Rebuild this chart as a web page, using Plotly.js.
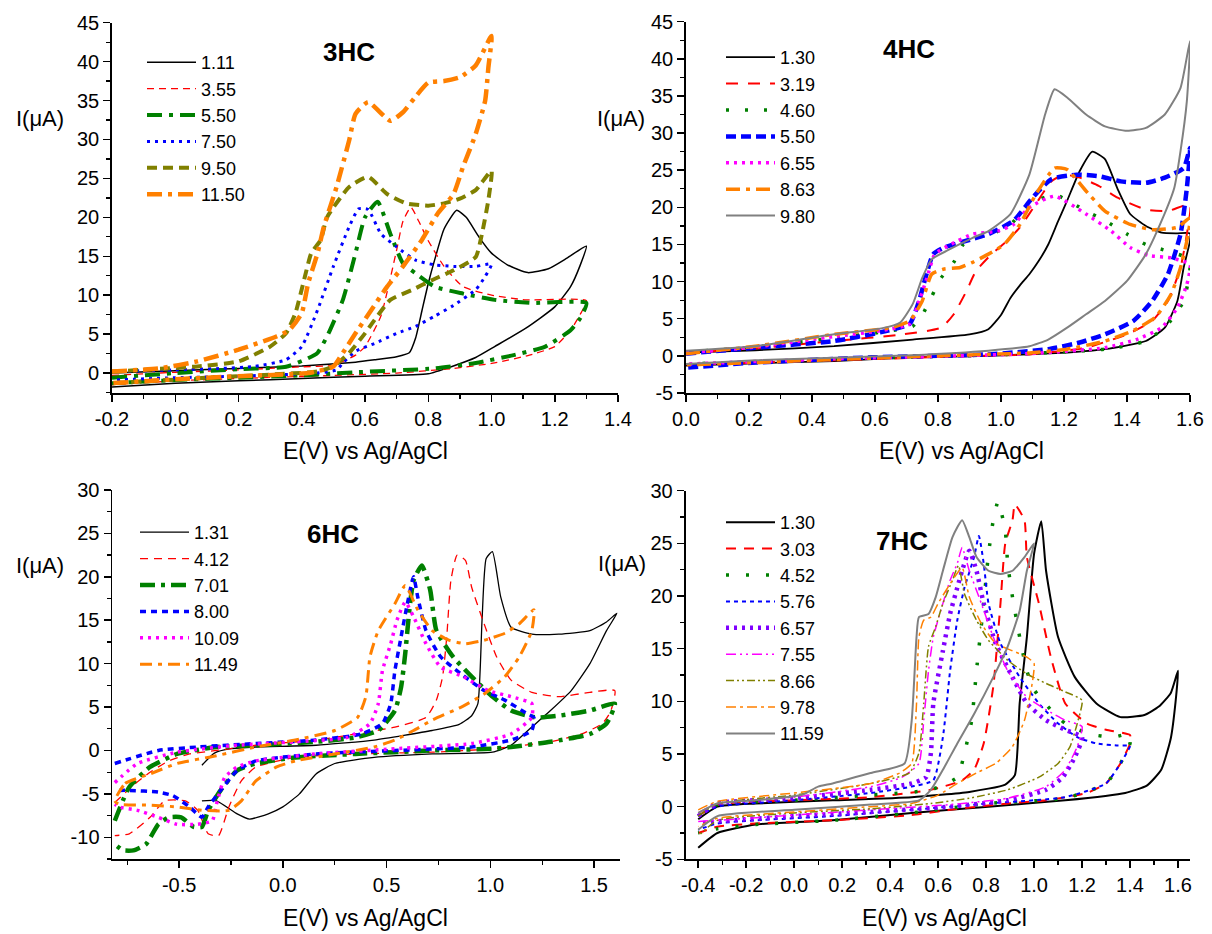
<!DOCTYPE html>
<html>
<head>
<meta charset="utf-8">
<script src="https://cdn.plot.ly/plotly-3.0.1.min.js"></script>
<style>html,body{margin:0;padding:0;background:#fff}#chart{width:1212px;height:934px}</style>
</head>
<body>
<div id="chart"></div>
<script>
// ---------------- 3HC ----------------
const legend3HC = ['1.11','3.55','5.50','7.50','9.50','11.50'];
const E3_111 = [-0.2,0.0,0.2,0.4,0.57,0.63,0.70,0.74,0.76,0.78,0.80,0.82,0.85,0.89,0.92,0.96,1.0,1.05,1.115,1.18,1.24,1.3,1.28,1.25,1.2,1.11,1.01,0.95,0.875,0.8,0.6,0.4,0.2,0.0,-0.2];
const I3_111 = [0.0,0.3,0.6,0.9,1.4,1.7,2.1,2.6,4.5,8.0,11.5,14.5,18.5,20.9,20.0,17.5,15.4,13.9,12.9,13.4,14.8,16.3,13.8,11.1,8.5,5.8,3.4,2.0,0.85,-0.1,-0.4,-0.7,-1.0,-1.3,-1.8];
const E3_355 = [-0.2,0.0,0.2,0.4,0.5,0.57,0.60,0.65,0.70,0.72,0.745,0.77,0.8,0.85,0.91,1.0,1.11,1.3,1.28,1.25,1.2,1.12,1.01,0.88,0.7,0.5,0.2,0.0,-0.2];
const I3_355 = [-0.3,0.1,0.4,0.8,1.0,2.3,3.4,7.3,15.8,19.5,21.3,19.5,17.0,13.7,11.1,10.0,9.4,9.3,7.5,5.5,3.4,2.3,1.3,0.6,0.0,-0.3,-0.7,-1.0,-1.5];
const E3_550 = [-0.2,0.0,0.2,0.35,0.42,0.45,0.48,0.53,0.57,0.60,0.64,0.68,0.72,0.76,0.82,0.91,1.01,1.13,1.3,1.28,1.25,1.17,1.07,0.95,0.82,0.57,0.4,0.2,0.0,-0.2];
const I3_550 = [-0.6,0.0,0.5,0.8,1.9,2.6,4.7,9.4,15.4,20.0,22.0,17.9,14.1,12.8,11.1,10.2,9.4,9.0,9.0,7.0,5.5,3.4,2.3,1.3,0.6,0.1,-0.3,-0.6,-0.9,-1.3];
const E3_750 = [-0.2,0.0,0.15,0.25,0.35,0.40,0.45,0.50,0.55,0.58,0.61,0.65,0.70,0.76,0.82,0.88,0.95,1.0,0.98,0.95,0.88,0.82,0.76,0.70,0.63,0.57,0.53,0.51,0.45,0.2,0.0,-0.2];
const I3_750 = [0.2,0.4,0.6,0.85,1.7,3.4,8.1,13.7,18.8,21.1,21.0,17.9,16.2,14.5,13.9,13.7,13.7,14.0,12.4,10.7,8.7,7.3,6.0,5.1,3.8,2.8,1.3,0.4,0.0,-0.4,-0.6,-0.9];
const E3_950 = [-0.2,0.07,0.2,0.30,0.35,0.38,0.41,0.43,0.46,0.48,0.55,0.61,0.67,0.73,0.80,0.85,0.90,0.95,1.0,0.99,0.97,0.95,0.88,0.81,0.75,0.68,0.63,0.60,0.55,0.50,0.45,0.3,0.1,-0.2];
const I3_950 = [0.2,0.85,1.5,3.4,5.1,7.7,12.4,15.4,17.1,20.0,23.9,25.2,23.0,21.8,21.5,21.8,22.4,23.5,26.0,22.2,17.9,14.9,13.2,11.9,10.7,9.4,6.8,5.1,2.6,0.85,0.2,-0.2,-0.6,-1.3];
const E3_1150 = [-0.2,-0.05,0.07,0.20,0.32,0.36,0.40,0.42,0.45,0.47,0.51,0.55,0.57,0.61,0.68,0.72,0.76,0.80,0.85,0.90,0.95,1.0,0.99,0.98,0.95,0.91,0.88,0.83,0.78,0.72,0.67,0.62,0.57,0.53,0.50,0.42,0.2,0.0,-0.2];
const I3_1150 = [0.2,0.6,1.5,3.0,4.7,5.5,7.7,11.5,15.4,18.8,23.9,29.9,33.3,34.8,32.4,33.5,35.5,37.3,37.5,38.0,39.5,43.3,39.2,35.0,30.7,26.5,23.0,20.5,17.1,13.7,11.1,8.1,5.1,2.6,0.85,0.0,-0.4,-0.8,-1.3];

// ---------------- 4HC ----------------
const legend4HC = ['1.30','3.19','4.60','5.50','6.55','8.63','9.80'];
const E4_130 = [0,0.22,0.47,0.72,0.90,0.96,1.0,1.03,1.06,1.09,1.12,1.15,1.18,1.21,1.25,1.29,1.33,1.37,1.41,1.46,1.51,1.56,1.6,1.6,1.58,1.56,1.52,1.46,1.33,1.21,0.96,0.72,0.47,0.22,0];
const I4_130 = [0.45,0.76,1.3,2.2,2.9,3.6,5.5,7.8,9.5,11.0,12.8,15.0,18.0,20.9,24.9,27.5,26.5,22.5,19.1,17.5,16.6,16.5,16.5,15.5,11.9,7.4,3.8,2.0,0.9,0.45,0.0,-0.2,-0.7,-1.0,-1.3];
const E4_319 = [0,0.22,0.47,0.69,0.81,0.85,0.89,0.92,0.97,1.02,1.06,1.11,1.16,1.2,1.25,1.31,1.37,1.46,1.53,1.6,1.59,1.57,1.53,1.48,1.40,1.27,1.09,0.84,0.47,0];
const I4_319 = [0.4,1.0,2.0,2.9,3.8,5.6,8.7,11.4,13.7,15.5,17.3,20.4,23.5,24.4,24.0,22.9,21.3,19.7,19.5,20.4,16.4,11.9,7.4,4.7,2.9,1.1,0.2,-0.1,-0.6,-1.2];
const E4_460 = [0,0.22,0.47,0.62,0.72,0.75,0.78,0.81,0.85,0.88,0.92,0.97,1.03,1.09,1.17,1.27,1.33,1.40,1.46,1.53,1.59,1.6,1.58,1.53,1.46,1.33,0.96,0.47,0];
const I4_460 = [0.5,1.2,2.4,3.2,4.0,5.5,8.0,10.5,12.6,15.0,15.9,16.4,17.7,20.4,21.7,19.5,18.2,16.4,15.0,14.1,13.2,11.9,7.4,4.3,2.0,0.9,0.1,-0.4,-1.1];
const E4_550 = [0,0.22,0.47,0.62,0.71,0.74,0.76,0.785,0.82,0.89,0.96,1.04,1.10,1.16,1.24,1.31,1.38,1.46,1.52,1.58,1.6,1.59,1.57,1.53,1.48,1.42,1.33,1.25,1.15,0.96,0.59,0.22,0];
const I4_550 = [0.3,1.1,2.0,3.2,4.3,7.4,10.5,13.7,14.6,15.5,16.4,18.2,21.3,23.8,24.4,24.2,23.5,23.3,24.0,25.3,28.0,22.6,16.4,11.0,7.4,4.7,2.9,1.8,0.9,0.2,-0.2,-0.9,-1.6];
const E4_655 = [0,0.22,0.47,0.62,0.71,0.74,0.765,0.79,0.84,0.91,0.99,1.04,1.09,1.17,1.27,1.35,1.41,1.47,1.54,1.6,1.59,1.56,1.51,1.43,1.33,1.09,0.47,0];
const I4_655 = [0.4,1.2,2.6,3.4,4.3,7.4,10.5,13.7,15.0,16.4,16.8,17.7,20.0,21.5,19.1,16.8,14.6,13.5,13.2,12.3,9.6,6.5,3.8,2.2,1.1,0.3,-0.4,-1.1];
const E4_863 = [0,0.22,0.47,0.65,0.71,0.75,0.78,0.82,0.87,0.91,0.96,1.01,1.06,1.11,1.17,1.21,1.27,1.33,1.41,1.48,1.56,1.6,1.59,1.57,1.54,1.49,1.42,1.33,1.21,1.09,0.72,0.22,0];
const I4_863 = [0.3,1.3,2.9,3.8,4.7,7.4,11.0,11.7,11.9,12.6,13.7,15.0,17.7,21.7,25.3,25.1,22.2,19.5,17.7,17.0,17.3,18.6,15.5,11.9,8.3,5.2,3.4,2.0,0.9,0.4,-0.1,-0.9,-1.2];
const E4_980 = [0,0.22,0.47,0.62,0.68,0.72,0.75,0.78,0.83,0.91,0.96,1.03,1.09,1.14,1.17,1.21,1.27,1.33,1.40,1.46,1.52,1.57,1.6,1.59,1.57,1.55,1.51,1.46,1.40,1.33,1.27,1.21,1.15,1.09,0.96,0.72,0.22,0];
const I4_980 = [0.7,1.3,2.9,3.7,4.5,7.0,10.5,13.0,14.2,15.9,16.8,19.1,24.4,32.5,35.9,34.8,32.5,30.9,30.3,30.7,32.5,36.1,42.4,34.3,27.6,22.6,18.2,13.7,10.1,7.4,5.6,3.8,2.2,1.3,0.7,0.1,-0.6,-1.1];

// ---------------- 6HC ----------------
const legend6HC = ['1.31','4.12','7.01','8.00','10.09','11.49'];
const E6_131 = [-0.39,-0.33,-0.25,-0.13,0.16,0.44,0.72,0.85,0.91,0.94,0.96,0.98,1.01,1.05,1.10,1.20,1.33,1.48,1.56,1.61,1.56,1.48,1.39,1.29,1.20,1.10,1.01,0.72,0.44,0.25,0.16,0.08,0.0,-0.07,-0.16,-0.22,-0.32,-0.39];
const I6_131 = [-1.7,-0.3,0.2,0.4,0.6,1.2,2.3,3.0,4.0,5.4,15.0,22.1,22.9,17.7,14.2,13.4,13.4,13.8,14.8,15.8,13.8,10.0,6.9,4.6,2.7,0.6,-0.2,-0.4,-0.8,-1.5,-2.7,-5.0,-6.5,-7.3,-7.9,-7.3,-5.8,-5.8];
const E6_412 = [-0.81,-0.72,-0.64,-0.55,-0.45,-0.32,-0.13,0.16,0.35,0.54,0.69,0.74,0.77,0.79,0.81,0.84,0.88,0.91,0.97,1.03,1.10,1.20,1.33,1.48,1.60,1.58,1.54,1.44,1.29,1.01,0.72,0.35,0.06,-0.13,-0.2,-0.26,-0.31,-0.36,-0.41,-0.47,-0.57,-0.64,-0.74,-0.81];
const I6_412 = [-6.0,-4.0,-2.5,-1.2,-0.4,0.0,0.6,1.2,1.9,2.7,3.8,5.8,8.5,13.1,19.6,22.5,21.9,18.8,14.6,10.8,8.1,6.7,6.2,6.7,6.9,4.5,3.1,1.9,1.0,0.2,-0.2,-0.4,-0.8,-1.9,-3.5,-6.5,-9.8,-9.6,-6.9,-5.8,-5.8,-7.7,-9.6,-9.8];
const E6_701 = [-0.81,-0.74,-0.64,-0.51,-0.32,-0.13,0.16,0.35,0.46,0.54,0.57,0.59,0.61,0.63,0.67,0.71,0.74,0.82,0.91,1.01,1.10,1.22,1.33,1.48,1.60,1.56,1.48,1.29,1.10,1.01,0.72,0.35,0.06,-0.13,-0.22,-0.30,-0.36,-0.39,-0.43,-0.49,-0.55,-0.60,-0.66,-0.72,-0.77,-0.81];
const I6_701 = [-8.1,-4.2,-1.9,-0.4,0.4,0.6,1.0,1.5,2.3,4.6,7.3,11.2,16.2,19.6,21.3,18.5,13.8,10.8,8.5,6.2,4.6,3.8,4.0,4.6,5.4,3.1,1.9,1.0,0.4,0.2,0.0,-0.4,-0.8,-1.5,-2.3,-4.6,-6.9,-8.8,-8.8,-7.7,-7.7,-8.5,-10.8,-11.5,-11.5,-10.8];
const E6_800 = [-0.81,-0.6,-0.41,-0.13,0.16,0.38,0.48,0.52,0.54,0.57,0.60,0.63,0.65,0.69,0.76,0.86,0.97,1.07,1.18,1.21,1.2,1.10,0.91,0.54,0.16,-0.13,-0.22,-0.30,-0.36,-0.39,-0.45,-0.53,-0.6,-0.74,-0.81];
const I6_800 = [-1.5,0.0,0.4,0.8,1.2,1.9,3.1,5.4,9.2,13.1,16.9,20.0,17.7,13.8,10.8,8.8,6.9,5.8,4.2,3.8,2.3,1.2,0.4,0.0,-0.4,-1.2,-2.3,-4.6,-6.5,-7.7,-6.5,-5.2,-4.8,-4.6,-4.6];
const E6_1009 = [-0.81,-0.70,-0.51,-0.22,0.06,0.31,0.42,0.46,0.48,0.52,0.55,0.59,0.63,0.69,0.76,0.87,0.99,1.10,1.20,1.2,1.10,0.91,0.54,0.16,-0.13,-0.22,-0.28,-0.32,-0.34,-0.41,-0.51,-0.60,-0.70,-0.79,-0.81];
const I6_1009 = [-3.7,-1.5,-0.2,0.6,1.0,1.5,3.1,5.4,9.2,12.3,15.0,17.1,15.4,12.3,9.6,8.5,6.9,6.2,5.4,3.8,1.9,0.8,0.2,-0.4,-1.2,-1.9,-3.1,-6.2,-8.1,-8.5,-8.5,-7.7,-6.9,-6.5,-6.2];
const E6_1149 = [-0.81,-0.76,-0.64,-0.51,-0.32,-0.13,0.06,0.25,0.36,0.40,0.42,0.46,0.54,0.59,0.65,0.72,0.80,0.88,0.97,1.07,1.14,1.21,1.2,1.14,1.07,0.97,0.86,0.72,0.63,0.54,0.44,0.25,0.06,-0.03,-0.13,-0.2,-0.26,-0.38,-0.51,-0.64,-0.79,-0.81];
const I6_1149 = [-5.8,-3.8,-2.7,-1.5,-0.6,0.4,1.2,2.3,3.8,6.2,10.8,13.8,16.9,19.0,16.2,13.8,12.7,12.3,12.7,13.5,14.6,16.2,13.8,10.8,8.5,6.5,5.0,3.5,2.3,1.2,0.4,-0.4,-1.2,-1.9,-3.5,-5.8,-6.9,-6.9,-6.5,-6.3,-6.2,-5.8];

// ---------------- 7HC ----------------
const legend7HC = ['1.30','3.03','4.52','5.76','6.57','7.55','8.66','9.78','11.59'];
const E7_130 = [-0.4,-0.32,-0.16,0.16,0.49,0.73,0.88,0.92,0.94,0.97,1.0,1.03,1.05,1.10,1.17,1.26,1.36,1.46,1.52,1.57,1.6,1.59,1.57,1.53,1.47,1.38,1.13,0.81,0.49,0.16,-0.16,-0.32,-0.4];
const I7_130 = [-1.2,0.0,0.3,0.6,0.9,1.4,2.1,3.0,9.8,16.1,24.0,27.1,22.4,16.1,12.3,9.8,8.5,8.7,9.5,10.8,12.9,10.0,6.5,3.5,2.0,1.3,0.6,0.0,-0.6,-1.3,-1.7,-2.5,-3.9];
const E7_303 = [-0.4,-0.32,0.0,0.32,0.57,0.70,0.75,0.79,0.83,0.86,0.88,0.91,0.92,0.96,0.97,1.02,1.07,1.13,1.22,1.30,1.4,1.4,1.36,1.30,1.22,1.05,0.89,0.65,0.49,0.16,-0.16,-0.32,-0.4];
const I7_303 = [-0.9,0.2,0.6,0.9,1.6,2.5,3.5,6.0,11.4,19.3,25.0,27.2,28.7,27.2,23.7,19.3,14.2,9.8,7.9,7.3,6.8,6.0,4.1,2.2,1.3,0.6,0.3,-0.3,-0.8,-1.3,-1.6,-1.9,-2.5];
const E7_452 = [-0.4,-0.32,0.0,0.32,0.57,0.68,0.71,0.74,0.76,0.79,0.81,0.83,0.85,0.88,0.89,0.91,0.94,0.97,1.0,1.07,1.13,1.23,1.33,1.4,1.4,1.36,1.30,1.13,0.81,0.49,0.16,-0.16,-0.32,-0.4];
const I7_452 = [-0.9,0.2,0.6,1.1,1.6,2.8,5.1,8.2,12.9,19.3,24.0,27.2,29.0,26.2,23.1,19.9,16.1,12.9,11.1,9.2,7.9,6.9,6.6,6.9,6.0,4.1,2.2,0.8,0.3,-0.6,-1.3,-1.7,-2.1,-2.5];
const E7_576 = [-0.4,-0.32,0.0,0.32,0.49,0.58,0.62,0.65,0.68,0.71,0.75,0.77,0.79,0.81,0.86,0.94,1.02,1.10,1.18,1.26,1.35,1.4,1.4,1.36,1.30,1.13,0.81,0.49,0.16,-0.16,-0.32,-0.4];
const I7_576 = [-0.9,0.0,0.6,1.3,1.9,2.5,6.6,12.9,17.7,20.8,23.7,25.7,23.1,19.3,15.5,12.3,9.8,7.9,6.6,6.0,5.8,5.8,5.7,4.1,2.2,0.9,0.3,-0.3,-0.9,-1.3,-1.6,-2.2];
const E7_657 = [-0.4,-0.32,0.0,0.32,0.49,0.55,0.57,0.58,0.62,0.65,0.68,0.70,0.73,0.76,0.79,0.84,0.91,0.97,1.05,1.13,1.2,1.17,1.12,1.05,0.89,0.65,0.32,0.0,-0.32,-0.4];
const I7_657 = [-0.9,0.3,0.8,1.6,2.2,2.8,5.1,9.8,14.8,18.3,20.8,22.4,24.3,22.4,19.3,15.5,12.3,9.8,8.2,7.3,6.6,4.7,2.8,1.6,0.6,0.0,-0.5,-0.9,-1.4,-1.6];
const E7_755 = [-0.4,-0.32,0.0,0.32,0.45,0.52,0.54,0.56,0.58,0.62,0.65,0.68,0.70,0.73,0.78,0.83,0.89,0.97,1.05,1.13,1.2,1.18,1.13,1.05,0.89,0.65,0.32,0.0,-0.32,-0.4];
const I7_755 = [-0.6,0.3,0.9,1.9,2.8,4.1,8.2,12.9,16.1,19.3,21.5,23.1,24.6,22.4,19.3,16.1,12.9,10.4,9.2,8.2,7.6,5.7,3.5,1.9,0.8,0.2,-0.3,-0.8,-1.3,-1.4];
const E7_866 = [-0.4,-0.32,0.0,0.32,0.48,0.52,0.54,0.56,0.59,0.62,0.66,0.685,0.71,0.76,0.81,0.89,0.97,1.05,1.13,1.2,1.18,1.15,1.10,1.02,0.89,0.73,0.57,0.32,0.0,-0.32,-0.4];
const I7_866 = [-0.9,0.3,1.1,2.2,3.2,5.1,9.8,15.2,17.1,19.3,21.5,22.9,20.2,17.7,15.8,13.9,12.6,11.7,10.9,10.1,7.9,5.7,4.1,2.8,1.6,0.8,0.3,-0.2,-0.6,-1.3,-2.8];
const E7_978 = [-0.4,-0.32,0.0,0.32,0.44,0.49,0.51,0.52,0.54,0.57,0.60,0.66,0.70,0.73,0.78,0.84,0.91,0.97,1.0,0.99,0.96,0.91,0.84,0.76,0.68,0.60,0.49,0.32,0.0,-0.32,-0.4];
const I7_978 = [-0.3,0.5,1.3,2.2,3.2,4.1,9.8,16.1,17.7,18.0,19.3,21.5,22.7,19.9,17.4,15.5,14.8,14.2,13.6,11.4,8.2,5.7,4.1,3.2,2.2,1.1,0.3,0.0,-0.5,-1.1,-1.9];
const E7_1159 = [-0.4,-0.32,-0.16,0.03,0.10,0.16,0.32,0.46,0.49,0.51,0.52,0.56,0.59,0.62,0.66,0.70,0.73,0.76,0.81,0.86,0.91,0.96,1.0,0.97,0.94,0.89,0.83,0.75,0.68,0.62,0.57,0.52,0.32,0.0,-0.32,-0.4];
const I7_1159 = [-0.6,0.3,0.6,1.1,1.9,2.2,3.2,4.1,8.2,16.1,18.0,18.3,19.9,22.4,25.6,27.2,25.6,23.7,22.4,22.1,22.4,23.7,25.0,22.4,18.6,15.2,12.3,8.8,6.0,3.5,1.6,0.6,0.2,-0.3,-0.9,-2.2];

// ---------------- tick labels ----------------
const xt3 = [-0.2,0.0,0.2,0.4,0.6,0.8,1.0,1.2,1.4];
const xl3 = ['-0.2','0.0','0.2','0.4','0.6','0.8','1.0','1.2','1.4'];
const yt3 = [0,5,10,15,20,25,30,35,40,45];
const yl3 = ['0','5','10','15','20','25','30','35','40','45'];
const xt4 = [0.0,0.2,0.4,0.6,0.8,1.0,1.2,1.4,1.6];
const xl4 = ['0.0','0.2','0.4','0.6','0.8','1.0','1.2','1.4','1.6'];
const yt4 = [-5,0,5,10,15,20,25,30,35,40,45];
const yl4 = ['-5','0','5','10','15','20','25','30','35','40','45'];
const xt6 = [-0.5,0.0,0.5,1.0,1.5];
const xl6 = ['-0.5','0.0','0.5','1.0','1.5'];
const yt6 = [-10,-5,0,5,10,15,20,25,30];
const yl6 = ['-10','-5','0','5','10','15','20','25','30'];
const xt7 = [-0.4,-0.2,0.0,0.2,0.4,0.6,0.8,1.0,1.2,1.4,1.6];
const xl7 = ['-0.4','-0.2','0.0','0.2','0.4','0.6','0.8','1.0','1.2','1.4','1.6'];
const yt7 = [-5,0,5,10,15,20,25,30];
const yl7 = ['-5','0','5','10','15','20','25','30'];

// ---------------- build ----------------
const W = 1212, H = 934;
const FONT = 'Liberation Sans, Arial, Helvetica, sans-serif';
function px(x){return x/W;}
function py(y){return 1 - y/H;}

function trace(E, I, name, color, width, dash, xa, ya, leg){
  return {x:E, y:I, name:name, type:'scatter', mode:'lines', xaxis:xa, yaxis:ya, legend:leg,
    line:{color:color, width:width, dash:dash, shape:'spline', smoothing:0.5}, hoverinfo:'skip'};
}

const data = [
  trace(E3_111,I3_111,legend3HC[0],'#000000',1.5,'solid','x','y','legend'),
  trace(E3_355,I3_355,legend3HC[1],'#ff0000',1.3,'7px,5px','x','y','legend'),
  trace(E3_550,I3_550,legend3HC[2],'#008000',4,'15px,7px,4px,7px','x','y','legend'),
  trace(E3_750,I3_750,legend3HC[3],'#0000ff',3,'3px,5px','x','y','legend'),
  trace(E3_950,I3_950,legend3HC[4],'#808000',4,'10px,6px','x','y','legend'),
  trace(E3_1150,I3_1150,legend3HC[5],'#ff8000',4.5,'15px,6px,4px,6px','x','y','legend'),

  trace(E4_130,I4_130,legend4HC[0],'#000000',1.8,'solid','x2','y2','legend2'),
  trace(E4_319,I4_319,legend4HC[1],'#ff0000',2,'12px,10px','x2','y2','legend2'),
  trace(E4_460,I4_460,legend4HC[2],'#008000',3.5,'3px,16px','x2','y2','legend2'),
  trace(E4_550,I4_550,legend4HC[3],'#0000ff',4.5,'10px,5px','x2','y2','legend2'),
  trace(E4_655,I4_655,legend4HC[4],'#ff00ff',3.5,'3px,5px','x2','y2','legend2'),
  trace(E4_863,I4_863,legend4HC[5],'#ff8000',3.5,'14px,6px,4px,6px','x2','y2','legend2'),
  trace(E4_980,I4_980,legend4HC[6],'#808080',2,'solid','x2','y2','legend2'),

  trace(E6_131,I6_131,legend6HC[0],'#000000',1.3,'solid','x3','y3','legend3'),
  trace(E6_412,I6_412,legend6HC[1],'#ff0000',1.3,'8px,6px','x3','y3','legend3'),
  trace(E6_701,I6_701,legend6HC[2],'#008000',4.5,'15px,6px,4px,6px','x3','y3','legend3'),
  trace(E6_800,I6_800,legend6HC[3],'#0000ff',3.5,'6px,5px','x3','y3','legend3'),
  trace(E6_1009,I6_1009,legend6HC[4],'#ff00ff',3.5,'3px,5px','x3','y3','legend3'),
  trace(E6_1149,I6_1149,legend6HC[5],'#ff8000',3,'12px,6px,4px,6px','x3','y3','legend3'),

  trace(E7_130,I7_130,legend7HC[0],'#000000',2,'solid','x4','y4','legend4'),
  trace(E7_303,I7_303,legend7HC[1],'#ff0000',2,'10px,8px','x4','y4','legend4'),
  trace(E7_452,I7_452,legend7HC[2],'#008000',3.5,'3px,17px','x4','y4','legend4'),
  trace(E7_576,I7_576,legend7HC[3],'#0000ff',2,'4px,4px','x4','y4','legend4'),
  trace(E7_657,I7_657,legend7HC[4],'#8000ff',4.5,'3px,5px','x4','y4','legend4'),
  trace(E7_755,I7_755,legend7HC[5],'#ff00ff',1.5,'10px,4px,2px,4px,2px,4px','x4','y4','legend4'),
  trace(E7_866,I7_866,legend7HC[6],'#808000',1.5,'8px,3px,2px,3px,2px,3px','x4','y4','legend4'),
  trace(E7_978,I7_978,legend7HC[7],'#ff8000',1.5,'10px,4px,3px,4px','x4','y4','legend4'),
  trace(E7_1159,I7_1159,legend7HC[8],'#808080',2,'solid','x4','y4','legend4')
];

function axis(domain, range, tv, tt, minorDt, anchor){
  return {domain:domain, range:range, anchor:anchor, showgrid:false, zeroline:false,
    showline:true, linecolor:'#000', linewidth:1.8, mirror:false,
    ticks:'outside', ticklen:7, tickwidth:1.5, tickcolor:'#000',
    tickmode:'array', tickvals:tv, ticktext:tt,
    tickfont:{family:FONT, size:20, color:'#000'},
    minor:{dtick:minorDt, tick0:0, ticks:'outside', ticklen:4, tickwidth:1.3, tickcolor:'#000'},
    fixedrange:true};
}

function leg(x, y){
  return {x:px(x), y:py(y), xanchor:'left', yanchor:'top', bgcolor:'rgba(0,0,0,0)', borderwidth:0,
    font:{family:FONT, size:18, color:'#000'}, itemwidth:49, traceorder:'normal', itemclick:false, itemdoubleclick:false};
}

function ann(text, x, y, size, bold){
  return {text: bold ? '<b>'+text+'</b>' : text, x:px(x), y:py(y), xref:'paper', yref:'paper',
    xanchor:'center', yanchor:'middle', showarrow:false, font:{family:FONT, size:size, color:'#000'}};
}

const layout = {
  width:W, height:H, margin:{l:0,r:0,t:0,b:0}, paper_bgcolor:'#fff', plot_bgcolor:'#fff',
  font:{family:FONT, color:'#000'}, showlegend:true,
  xaxis: axis([px(112),px(618)], [-0.2,1.4], xt3, xl3, 0.1, 'y'),
  yaxis: axis([py(393.3),py(22.7)], [-2.6,45], yt3, yl3, 2.5, 'x'),
  xaxis2: axis([px(686),px(1190)], [0,1.6], xt4, xl4, 0.1, 'y2'),
  yaxis2: axis([py(393),py(21.7)], [-5,45], yt4, yl4, 2.5, 'x2'),
  xaxis3: axis([px(112.3),px(620)], [-0.822,1.625], xt6, xl6, 0.25, 'y3'),
  yaxis3: axis([py(859),py(490)], [-12.5,30], yt6, yl6, 2.5, 'x3'),
  xaxis4: axis([px(685.5),px(1190)], [-0.453,1.65], xt7, xl7, 0.1, 'y4'),
  yaxis4: axis([py(859.3),py(490.7)], [-5,30], yt7, yl7, 2.5, 'x4'),
  legend: leg(142, 44),
  legend2: leg(721, 39),
  legend3: leg(135, 514),
  legend4: leg(721, 504),
  annotations: [
    ann('3HC', 349, 52, 26, true),
    ann('4HC', 909, 49, 26, true),
    ann('6HC', 333, 534, 26, true),
    ann('7HC', 902, 541, 26, true),
    ann('I(μA)', 40, 119, 22, false),
    ann('I(μA)', 621, 118, 22, false),
    ann('I(μA)', 40, 565, 22, false),
    ann('I(μA)', 622, 563, 22, false),
    ann('E(V) vs Ag/AgCl', 365, 451, 23, false),
    ann('E(V) vs Ag/AgCl', 961, 451, 23, false),
    ann('E(V) vs Ag/AgCl', 365, 918, 23, false),
    ann('E(V) vs Ag/AgCl', 944, 918, 23, false)
  ]
};

Plotly.newPlot('chart', data, layout, {staticPlot:true, displayModeBar:false});
</script>
</body>
</html>
